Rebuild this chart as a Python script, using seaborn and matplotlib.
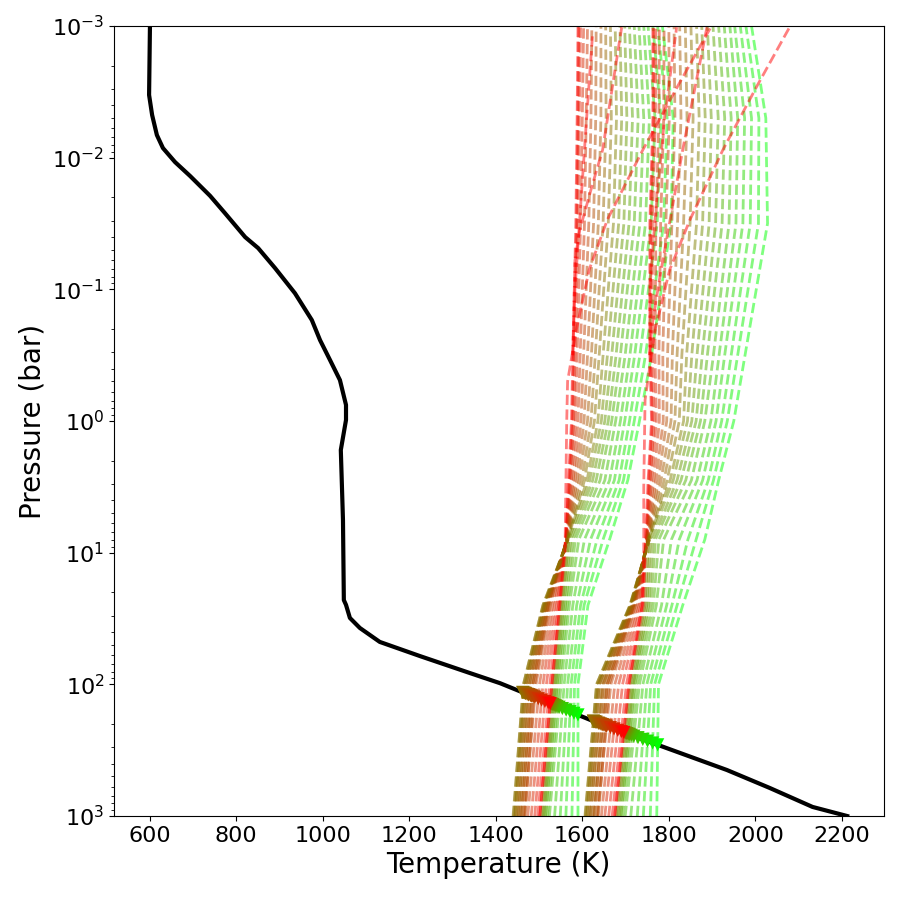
import numpy as np
import pandas as pd
import matplotlib
matplotlib.use("Agg")
import matplotlib.pyplot as plt
import seaborn as sns

# ---------------- data ----------------
# temperature-pressure profile (black)
T_profile = [601, 599, 606, 617, 631, 659, 694, 740, 774, 821, 851, 890, 936, 975, 994,
             1017, 1040, 1054, 1054, 1042, 1047, 1049, 1054, 1063, 1086, 1132, 1225, 1340,
             1410, 1640, 1934, 2033, 2132, 2212]
P_profile = [1.0e-3, 3.34e-3, 4.74e-3, 6.73e-3, 8.45e-3, 1.08e-2, 1.38e-2, 1.95e-2, 2.63e-2,
             4.01e-2, 4.86e-2, 6.89e-2, 0.107, 0.171, 0.243, 0.344, 0.489, 0.755, 0.982,
             1.66, 5.65, 22.9, 24.9, 31.3, 37.3, 47.6, 61.0, 82.0, 98.0, 199.0, 447.0,
             612.0, 853.0, 1000.0]

# colour weight of each condensation curve (0 = red, 1 = green)
mix = [0.00, 0.05, 0.10, 0.15, 0.20, 0.25, 0.30, 0.35, 0.40, 0.45, 0.50,
       0.55, 0.60, 0.65, 0.70, 0.75, 0.80, 0.85, 0.90, 0.95, 1.00]

# pressure levels (bar) where the condensation curves are tabulated
P_levels = [1000.0, 100.0, 25.1, 7.94, 2.82, 1.0, 0.316, 0.0316, 0.005, 0.001]

# family 1 : temperature (K) of every curve (columns follow `mix`) at each level
fam1_T = [
    [1502, 1497, 1490, 1482, 1474, 1466, 1458, 1451, 1445, 1440, 1506, 1509, 1512, 1515, 1519, 1524, 1536, 1549, 1562, 1576, 1590],
    [1530, 1525, 1517, 1509, 1501, 1493, 1485, 1477, 1470, 1464, 1533, 1536, 1539, 1542, 1546, 1551, 1558, 1566, 1574, 1582, 1590],
    [1548, 1545, 1541, 1536, 1531, 1526, 1521, 1516, 1512, 1509, 1551, 1554, 1557, 1561, 1565, 1570, 1578, 1587, 1596, 1604, 1613],
    [1562, 1562, 1562, 1563, 1563, 1564, 1564, 1565, 1566, 1567, 1566, 1569, 1573, 1578, 1584, 1592, 1605, 1619, 1634, 1648, 1663],
    [1568, 1570, 1572, 1575, 1579, 1583, 1588, 1593, 1599, 1605, 1611, 1617, 1624, 1632, 1641, 1652, 1663, 1674, 1685, 1695, 1705],
    [1575, 1577, 1580, 1584, 1590, 1597, 1604, 1612, 1620, 1628, 1636, 1644, 1652, 1660, 1668, 1677, 1688, 1698, 1709, 1720, 1732],
    [1578, 1580, 1583, 1588, 1595, 1603, 1612, 1621, 1630, 1639, 1648, 1658, 1668, 1678, 1688, 1699, 1710, 1721, 1733, 1746, 1760],
    [1585, 1587, 1590, 1596, 1605, 1615, 1626, 1637, 1648, 1660, 1672, 1684, 1696, 1708, 1720, 1733, 1746, 1759, 1773, 1788, 1805],
    [1588, 1590, 1593, 1600, 1609, 1620, 1631, 1643, 1655, 1667, 1679, 1691, 1703, 1716, 1729, 1742, 1755, 1768, 1782, 1796, 1810],
    [1590, 1592, 1596, 1603, 1612, 1622, 1632, 1643, 1654, 1665, 1676, 1687, 1698, 1709, 1720, 1731, 1742, 1752, 1763, 1774, 1785],
]

# family 2
fam2_T = [
    [1675, 1669, 1661, 1652, 1644, 1635, 1626, 1618, 1612, 1606, 1679, 1682, 1686, 1689, 1693, 1699, 1712, 1727, 1741, 1757, 1772],
    [1708, 1702, 1693, 1684, 1675, 1666, 1657, 1647, 1639, 1633, 1711, 1715, 1718, 1721, 1726, 1732, 1740, 1749, 1758, 1767, 1776],
    [1742, 1739, 1735, 1731, 1727, 1723, 1719, 1715, 1712, 1710, 1745, 1749, 1753, 1758, 1764, 1771, 1783, 1795, 1807, 1819, 1832],
    [1746, 1748, 1748, 1749, 1749, 1751, 1751, 1752, 1753, 1755, 1753, 1757, 1763, 1769, 1777, 1788, 1806, 1824, 1844, 1863, 1883],
    [1752, 1754, 1757, 1760, 1765, 1770, 1776, 1782, 1789, 1796, 1803, 1810, 1819, 1828, 1839, 1852, 1865, 1878, 1891, 1903, 1915],
    [1760, 1762, 1766, 1771, 1778, 1787, 1795, 1805, 1814, 1824, 1834, 1843, 1853, 1863, 1873, 1883, 1897, 1909, 1922, 1935, 1950],
    [1756, 1758, 1762, 1768, 1777, 1786, 1797, 1808, 1819, 1830, 1841, 1853, 1865, 1877, 1889, 1903, 1916, 1929, 1944, 1959, 1976],
    [1756, 1758, 1762, 1770, 1781, 1793, 1807, 1820, 1834, 1849, 1864, 1878, 1893, 1908, 1923, 1939, 1955, 1971, 1988, 2007, 2028],
    [1763, 1765, 1769, 1777, 1788, 1801, 1814, 1828, 1842, 1856, 1870, 1884, 1898, 1914, 1929, 1944, 1959, 1975, 1991, 2008, 2024],
    [1763, 1765, 1770, 1778, 1789, 1800, 1812, 1825, 1838, 1851, 1864, 1876, 1889, 1902, 1915, 1928, 1941, 1952, 1965, 1978, 1991],
]

# extra deep-only curves (dense brown band at high pressure)
deep_mix = [0.275, 0.30, 0.325, 0.35, 0.375, 0.40, 0.425, 0.45]
deep_P = [1000.0, 100.0, 25.1, 7.94]
fam1_deep_T = [
    [1468, 1464, 1460, 1456, 1452, 1448, 1444, 1441],
    [1490, 1486, 1482, 1478, 1474, 1470, 1467, 1464],
    [1524, 1521, 1519, 1517, 1515, 1513, 1511, 1509],
    [1564, 1564, 1565, 1565, 1566, 1566, 1567, 1567],
]
fam2_deep_T = [
    [1637, 1633, 1628, 1624, 1619, 1615, 1610, 1607],
    [1662, 1658, 1653, 1649, 1644, 1639, 1636, 1633],
    [1721, 1719, 1717, 1716, 1714, 1713, 1711, 1710],
    [1751, 1751, 1752, 1752, 1753, 1753, 1755, 1755],
]

# additional red curves (temperature K, pressure bar)
red_T = [
    [1578, 1583, 1594, 1610, 1624],
    [1578, 1583, 1594, 1622, 1647, 1691],
    [1502, 1530, 1548, 1560, 1564, 1566, 1586, 1616, 1658, 1740, 1820, 1897],
    [1756, 1756, 1768, 1790, 1818],
    [1756, 1760, 1779, 1832, 1888],
    [1675, 1708, 1738, 1742, 1742, 1745, 1768, 1802, 1849, 1925, 2003, 2079],
]
red_P = [
    [0.316, 0.10, 0.0295, 0.005, 0.00112],
    [0.316, 0.060, 0.0355, 0.0166, 0.0087, 0.00102],
    [1000, 100, 25.1, 10.0, 1.0, 0.5, 0.204, 0.0708, 0.0295, 0.0087, 0.00288, 0.00102],
    [0.316, 0.10, 0.0295, 0.005, 0.00102],
    [0.316, 0.20, 0.0813, 0.0087, 0.00102],
    [1000, 100, 25.1, 10.0, 3.16, 0.692, 0.204, 0.0708, 0.0295, 0.0087, 0.00288, 0.00102],
]

# ---------------- figure ----------------
fig = plt.figure(figsize=(9, 9), dpi=100)
ax = fig.add_axes([0.1267, 0.0933, 0.855, 0.8778])

def colour(m):
    return (1.0 - m, m, 0.0)

rows = []
marker_rows = []
logP_prof = np.log10(P_profile)
tables = (("f1", fam1_T, mix, P_levels), ("f2", fam2_T, mix, P_levels),
          ("d1", fam1_deep_T, deep_mix, deep_P), ("d2", fam2_deep_T, deep_mix, deep_P))
for fam_name, table, cmix, plev in tables:
    arr = np.array(table, dtype=float)  # levels x curves
    lg = np.log10(plev)[::-1]
    for j, m in enumerate(cmix):
        cid = f"{fam_name}_{j:02d}"
        for k, p in enumerate(plev):
            rows.append({"curve": cid, "T": arr[k, j], "P": p, "m": m})
        # crossing with the profile (both piecewise linear in log P)
        tc = arr[::-1, j]
        grid = np.linspace(1.0, 3.0, 4001)
        tcg = np.interp(grid, lg, tc)
        diff = tcg - np.interp(grid, logP_prof, T_profile)
        idx = np.where(np.sign(diff[:-1]) != np.sign(diff[1:]))[0]
        if len(idx):
            i = idx[0]
            g = grid[i] - diff[i] * (grid[i + 1] - grid[i]) / (diff[i + 1] - diff[i])
            marker_rows.append({"curve": cid, "T": float(np.interp(g, grid, tcg)),
                                "P": 10 ** g, "m": m})

curves = pd.DataFrame(rows)
palette = {c: colour(m) for c, m in curves.groupby("curve")["m"].first().items()}
sns.lineplot(data=curves, x="T", y="P", hue="curve", palette=palette, sort=False,
             estimator=None, legend=False, linestyle="--", linewidth=2, alpha=0.5, ax=ax)

for t, p in zip(red_T, red_P):
    extra = pd.DataFrame({"T": t, "P": p})
    sns.lineplot(data=extra, x="T", y="P", sort=False, estimator=None, color=(1.0, 0.0, 0.0),
                 linestyle="--", linewidth=2, alpha=0.5, ax=ax)

prof = pd.DataFrame({"T": T_profile, "P": P_profile})
sns.lineplot(data=prof, x="T", y="P", sort=False, estimator=None, color="black",
             linewidth=3, ax=ax)

marks = pd.DataFrame(marker_rows).sort_values("m", ascending=False)
mpal = {c: colour(m) for c, m in zip(marks["curve"], marks["m"])}
sns.scatterplot(data=marks, x="T", y="P", hue="curve", palette=mpal, marker="v", s=90,
                edgecolor="none", legend=False, ax=ax, zorder=5)

ax.set_yscale("log")
ax.set_ylim(1e3, 1e-3)
ax.set_xlim(518, 2296)
ax.set_xticks([600, 800, 1000, 1200, 1400, 1600, 1800, 2000, 2200])
ax.set_xlabel("Temperature (K)", fontsize=20)
ax.set_ylabel("Pressure (bar)", fontsize=20)
ax.tick_params(axis="both", which="major", labelsize=16)

fig.savefig("out.png", dpi=100)
